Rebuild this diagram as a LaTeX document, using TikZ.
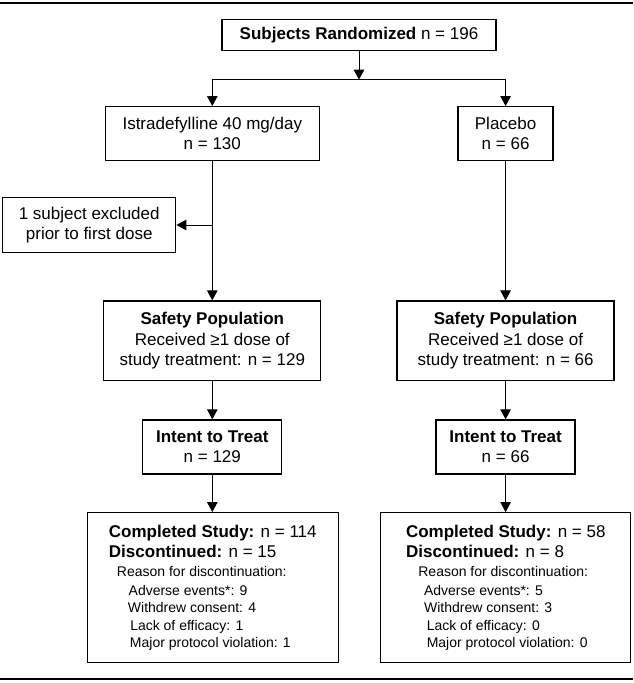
\documentclass[tikz,border=0pt]{standalone}
\usepackage{fontspec}
\setmainfont{Liberation Sans}
\usetikzlibrary{arrows.meta}
\newcommand\smalltxt{\fontsize{14}{16.8}\selectfont}
\begin{document}
\begin{tikzpicture}[x=1pt,y=-1pt,
  box/.style={draw,line width=1.3pt,inner sep=0pt,align=center,
    font=\fontsize{17}{20.4}\selectfont},
  finbox/.style={draw,line width=1.3pt,inner sep=0pt,align=left,
    minimum width=251pt,minimum height=150pt,
    font=\fontsize{17}{20.4}\selectfont},
  conn/.style={line width=1pt},
  arr/.style={conn,-{Triangle[width=10.5pt,length=10pt]}},
  rule/.style={line width=2pt}]
\useasboundingbox (0,0) rectangle (633,683);
% top and bottom rules
\coordinate (tl) at (0,2.7);
\coordinate (tr) at (633,2.7);
\coordinate (bl) at (0,679);
\coordinate (br) at (633,679);
\draw[rule] (tl) -- (tr);
\draw[rule] (bl) -- (br);

% nodes
\node[box,minimum width=274pt,minimum height=31.4pt] (subj) at (359,35)
  {\textbf{Subjects Randomized} n = 196};
\node[box,minimum width=214pt,minimum height=54pt] (istra) at (212.3,133.7)
  {Istradefylline 40 mg/day\\n = 130};
\node[box,minimum width=95pt,minimum height=54pt] (plac) at (505.6,133.7)
  {Placebo\\n = 66};
\node[box,minimum width=173pt,minimum height=54.6pt] (excl) at (89.2,225)
  {1 subject excluded\\prior to first dose};
\node[box,minimum width=217pt,minimum height=79.7pt] (safL) at (212.3,340.9)
  {\textbf{Safety Population}\\Received ≥1 dose of\\study treatment: n = 129};
\node[box,minimum width=217pt,minimum height=79.7pt] (safR) at (505.6,340.9)
  {\textbf{Safety Population}\\Received ≥1 dose of\\study treatment: n = 66};
\node[box,minimum width=139pt,minimum height=54pt] (ittL) at (212.3,447)
  {\textbf{Intent to Treat}\\n = 129};
\node[box,minimum width=139pt,minimum height=54pt] (ittR) at (505.6,447)
  {\textbf{Intent to Treat}\\n = 66};
\node[finbox] (finL) at (212.8,587.7)
  {\textbf{Completed Study:} n = 114\\
   \textbf{Discontinued:} n = 15\\[-1.8pt]
   \hspace*{8pt}{\smalltxt Reason for discontinuation:}\\[-1.4pt]
   \hspace*{19.7pt}{\smalltxt Adverse events*: 9}\\[-3pt]
   \hspace*{19pt}{\smalltxt Withdrew consent: 4}\\[-3pt]
   \hspace*{21.3pt}{\smalltxt Lack of efficacy: 1}\\[-3pt]
   \hspace*{21pt}{\smalltxt Major protocol violation: 1}};
\node[finbox,minimum width=250pt] (finR) at (505.8,587.7)
  {\textbf{Completed Study:} n = 58\\
   \textbf{Discontinued:} n = 8\\[-1.8pt]
   \hspace*{12.3pt}{\smalltxt Reason for discontinuation:}\\[-1.4pt]
   \hspace*{18pt}{\smalltxt Adverse events*: 5}\\[-3pt]
   \hspace*{18pt}{\smalltxt Withdrew consent: 3}\\[-3pt]
   \hspace*{20.7pt}{\smalltxt Lack of efficacy: 0}\\[-3pt]
   \hspace*{20.7pt}{\smalltxt Major protocol violation: 0}};

% connectors
\path (subj.south) ++(0,28.3) coordinate (split);
\draw[arr] (subj) -- (split);
\draw[arr] (split) -| (istra);
\draw[arr] (split) -| (plac);
\draw[arr] (istra) -- (safL);
\coordinate (branch) at (212.3,225);
\draw[arr] (branch) -- (excl);
\draw[arr] (plac) -- (safR);
\draw[arr] (safL) -- (ittL);
\draw[arr] (safR) -- (ittR);
\draw[arr] (ittL.south) -- (ittL.south |- finL.north);
\draw[arr] (ittR.south) -- (ittR.south |- finR.north);
\end{tikzpicture}
\end{document}
